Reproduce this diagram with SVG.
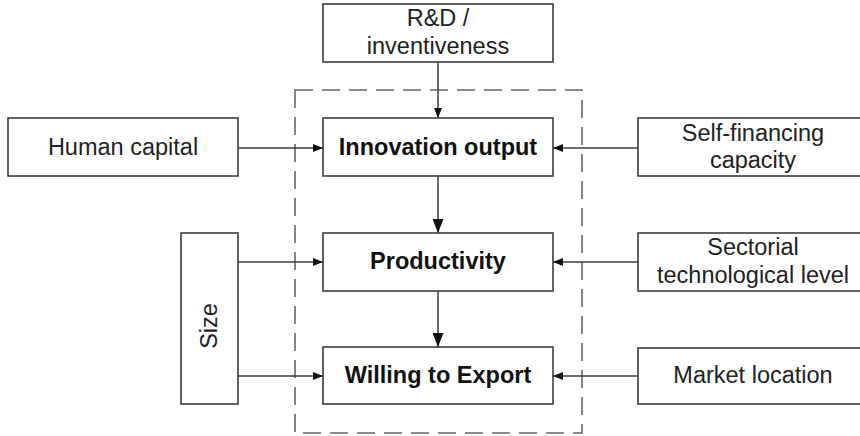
<svg xmlns="http://www.w3.org/2000/svg" width="860" height="436" viewBox="0 0 860 436">
<style>
.box{fill:#fff;stroke:#3c3c3c;stroke-width:1.6}
.t{font-family:"Liberation Sans",Arial,sans-serif;font-size:23.5px;fill:#222;text-anchor:middle}
.b{font-weight:bold;fill:#111}
.c{stroke:#3c3c3c;stroke-width:1.5;fill:none}
.cs{marker-end:url(#ah)}
.cl{marker-end:url(#ahl)}
.frame{fill:none;stroke:#666;stroke-width:1.6;stroke-dasharray:18 9}
</style>
<defs>
<marker id="ah" markerWidth="10" markerHeight="8" refX="10" refY="4" orient="auto" markerUnits="userSpaceOnUse">
<path d="M0,0 L10,4 L0,8 Z" fill="#111"/>
</marker>
<marker id="ahl" markerWidth="14" markerHeight="11" refX="14" refY="5.5" orient="auto" markerUnits="userSpaceOnUse">
<path d="M0,0 L14,5.5 L0,11 Z" fill="#111"/>
</marker>
</defs>
<rect width="860" height="436" fill="#fff"/>
<rect id="frame" class="frame" x="295" y="90" width="287" height="343"/>
<g id="connectors">
<line class="c cs" x1="438" y1="62" x2="438" y2="118"/>
<line class="c cs" x1="238" y1="148" x2="323" y2="148"/>
<line class="c cs" x1="638" y1="148" x2="553" y2="148"/>
<line class="c cl" x1="438" y1="176" x2="438" y2="233"/>
<line class="c cs" x1="238" y1="262" x2="323" y2="262"/>
<line class="c cs" x1="638" y1="262" x2="553" y2="262"/>
<line class="c cl" x1="438" y1="291" x2="438" y2="347"/>
<line class="c cs" x1="238" y1="376" x2="323" y2="376"/>
<line class="c cs" x1="638" y1="376" x2="553" y2="376"/>
</g>
<g id="rd">
<rect class="box" x="323" y="4" width="230" height="58"/>
<text class="t" x="438" y="26">R&amp;D /</text>
<text class="t" x="438" y="54">inventiveness</text>
</g>
<g id="innovation">
<rect class="box" x="323" y="118" width="230" height="58"/>
<text class="t b" x="438" y="155">Innovation output</text>
</g>
<g id="human">
<rect class="box" x="8" y="118" width="230" height="58"/>
<text class="t" x="123" y="155">Human capital</text>
</g>
<g id="selffin">
<rect class="box" x="638" y="118" width="230" height="58"/>
<text class="t" x="753" y="141">Self-financing</text>
<text class="t" x="753" y="168">capacity</text>
</g>
<g id="productivity">
<rect class="box" x="323" y="233" width="230" height="58"/>
<text class="t b" x="438" y="269">Productivity</text>
</g>
<g id="sectorial">
<rect class="box" x="638" y="233" width="230" height="58"/>
<text class="t" x="753" y="255">Sectorial</text>
<text class="t" x="753" y="283">technological level</text>
</g>
<g id="size">
<rect class="box" x="181" y="233" width="57" height="171"/>
<text class="t" transform="translate(217,326) rotate(-90)" x="0" y="0">Size</text>
</g>
<g id="willing">
<rect class="box" x="323" y="347" width="230" height="57"/>
<text class="t b" x="438" y="383">Willing to Export</text>
</g>
<g id="market">
<rect class="box" x="638" y="348" width="230" height="56"/>
<text class="t" x="753" y="383">Market location</text>
</g>
</svg>
